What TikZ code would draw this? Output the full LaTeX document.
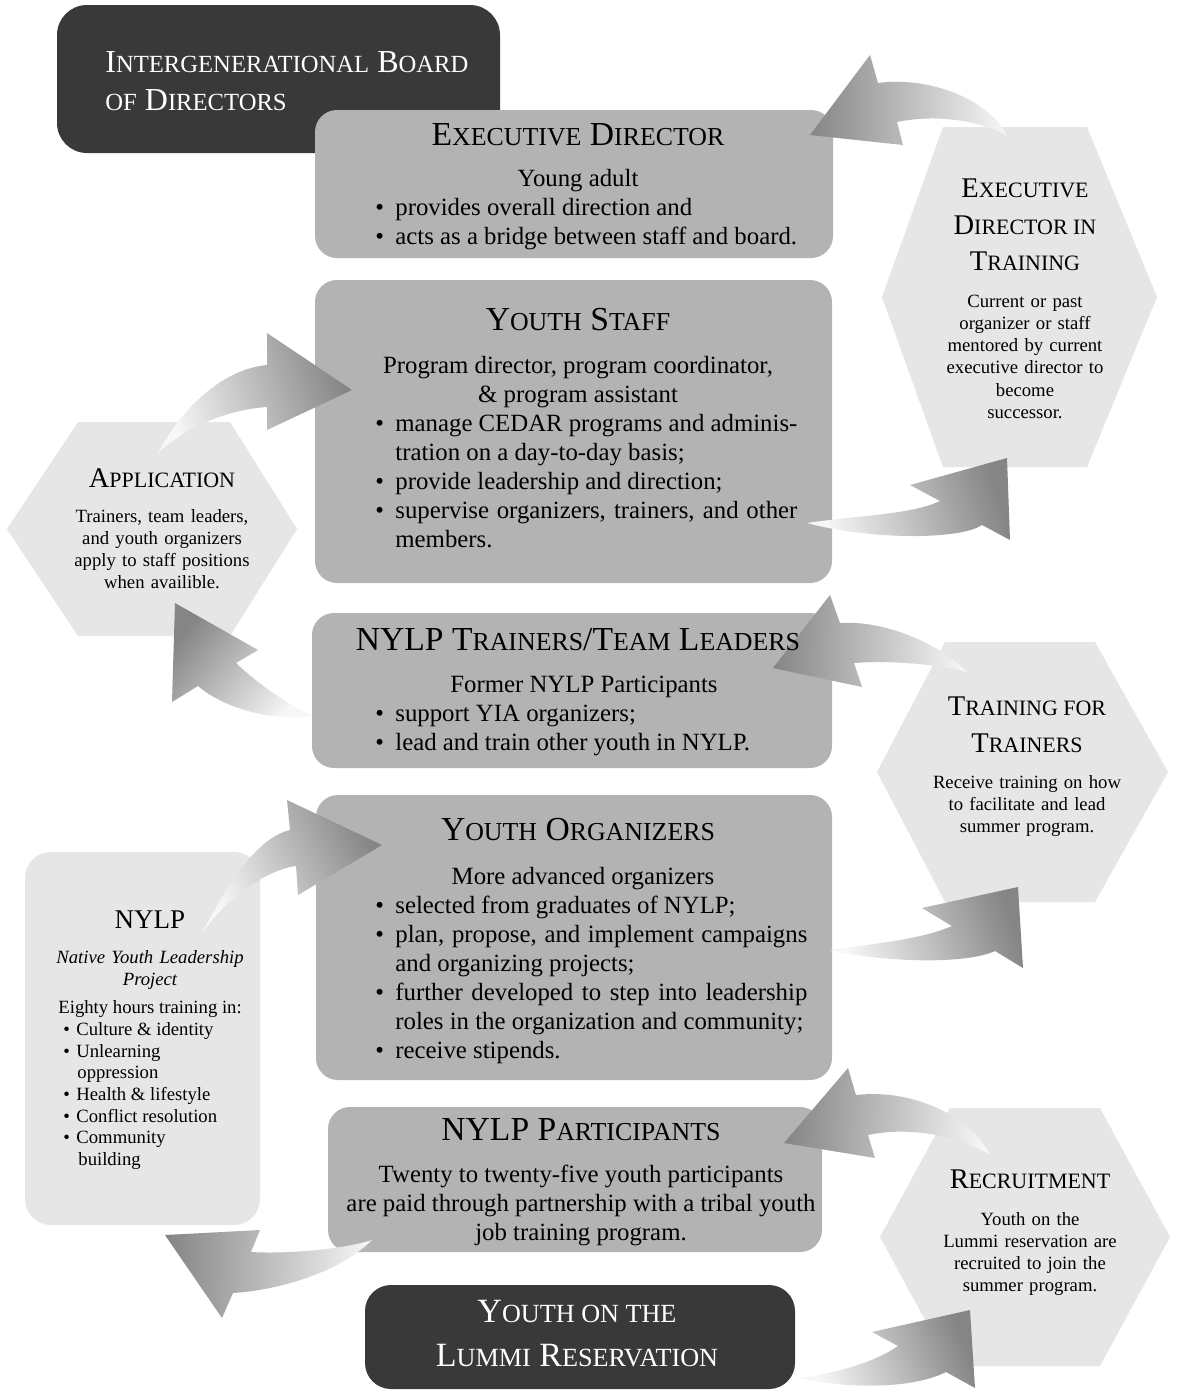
\documentclass[tikz,border=0pt]{standalone}
\usepackage{graphicx}
\usepackage{fontspec}
\setmainfont{Liberation Serif}
\definecolor{cdark}{HTML}{393939}
\definecolor{cmid}{HTML}{B3B3B3}
\definecolor{clight}{HTML}{E6E6E6}
\definecolor{carrd}{HTML}{858585}
\definecolor{carrl}{HTML}{F7F7F7}
\newcommand\smc[1]{\scalebox{0.77}{#1}}
\newcommand\bl{\makebox[10pt][l]{\textbullet}}
\newcommand\sbl{\makebox[6.5pt][l]{\textbullet}}
\newcommand\jl[2]{\makebox[#1][s]{#2}}
\begin{document}
\begin{tikzpicture}[x=0.5pt,y=-0.5pt,
  box/.style={inner sep=0pt, outer sep=0pt, draw=none},
  darkbox/.style={box, fill=cdark, rounded corners=14pt},
  graybox/.style={box, fill=cmid, rounded corners=11pt},
  lightbox/.style={box, fill=clight, rounded corners=13pt},
  hexa/.style={fill=clight, draw=none},
  arr/.style={top color=carrd, bottom color=carrl, draw=none},
  ttl/.style={anchor=base, inner sep=0pt, font=\fontsize{16.8}{20}\selectfont},
  wttl/.style={anchor=base, inner sep=0pt, text=white, font=\fontsize{17}{20}\selectfont},
  bodyc/.style={anchor=base, inner sep=0pt, font=\fontsize{12.4}{14.5}\selectfont},
  bodyl/.style={bodyc, anchor=base west},
  httl/.style={anchor=base, inner sep=0pt, font=\fontsize{14.25}{18.25}\selectfont},
  hbody/.style={anchor=base, inner sep=0pt, text width=110pt, align=center, font=\fontsize{9.35}{11.15}\selectfont},
  sbody/.style={anchor=base west, inner sep=0pt, font=\fontsize{9.35}{11.15}\selectfont},
]
\useasboundingbox (0,0) rectangle (1178,1393);
\fill[white] (0,0) rectangle (1178,1393);

% ---------- boxes ----------
\node[darkbox, rounded corners=15pt, minimum width=221.5pt, minimum height=74pt] (board) at (278.5,79) {};
\node[graybox, minimum width=259pt, minimum height=74pt] (ed) at (574,184) {};
\node[graybox, minimum width=258.5pt, minimum height=151.5pt] (ys) at (573.5,431.5) {};
\node[graybox, minimum width=260pt, minimum height=77.5pt] (tr) at (572,690.5) {};
\node[graybox, minimum width=258pt, minimum height=142.5pt] (yo) at (574,937.5) {};
\node[graybox, minimum width=247pt, minimum height=72.5pt] (pp) at (575,1179.5) {};
\node[darkbox, rounded corners=13pt, minimum width=215pt, minimum height=52pt] (lm) at (580,1337) {};
\node[lightbox, minimum width=117.5pt, minimum height=186.5pt] (ny) at (142.5,1038.5) {};

% ---------- hexagons ----------
\path[hexa] (943,127) -- (1087,127) -- (1157,297) -- (1087,467) -- (943,467) -- (882,297) -- cycle;
\path[hexa] (78,422) -- (230,422) -- (297,529) -- (230,636) -- (78,636) -- (7,529) -- cycle;
\path[hexa] (945,642) -- (1095,642) -- (1168,772) -- (1095,902) -- (945,902) -- (877,772) -- cycle;
\path[hexa] (950,1108) -- (1100,1108) -- (1170,1237) -- (1100,1366) -- (950,1366) -- (880,1237) -- cycle;

% ---------- arrows ----------
% ED in training -> Executive Director
\path[arr, shading angle=90] (1007,136) .. controls (990,100) and (930,76) .. (878,83) -- (870,55) -- (810,135) -- (903,145) -- (897,122) .. controls (935,114) and (980,120) .. (1007,136) -- cycle;
% Youth Staff -> ED in training
\path[arr, shading angle=-72] (807,523) .. controls (860,515) and (910,515) .. (940,501) -- (910,485) -- (1007,458) -- (1010,540) -- (982,525) .. controls (960,540) and (870,540) .. (807,523) -- cycle;
% Application -> Youth Staff
\path[arr, shading angle=-72] (158,453) .. controls (175,420) and (215,370) .. (267,365) -- (267,333) -- (352,390) -- (267,430) -- (267,407) .. controls (225,410) and (185,428) .. (158,453) -- cycle;
% Trainers -> Application
\path[arr, shading angle=51] (313,716) .. controls (290,706) and (258,684) .. (236,663) -- (258,650) -- (175,603) -- (172,702) -- (198,686) .. controls (220,705) and (265,722) .. (313,716) -- cycle;
% Training for trainers -> Trainers
\path[arr, shading angle=89] (967,672) .. controls (945,648) and (890,620) .. (840,623) -- (830,595) -- (773,668) -- (862,687) -- (854,663) .. controls (895,660) and (940,665) .. (967,672) -- cycle;
% Youth Organizers -> Training for trainers
\path[arr, shading angle=-71] (830,950) .. controls (870,944) and (920,940) .. (952,926) -- (922,908) -- (1018,887) -- (1023,968) -- (995,951) .. controls (965,965) and (880,962) .. (830,950) -- cycle;
% Recruitment -> NYLP Participants
\path[arr, shading angle=87] (990,1155) .. controls (975,1122) and (920,1088) .. (856,1095) -- (848,1068) -- (784,1143) -- (875,1158) -- (868,1135) .. controls (910,1126) and (960,1136) .. (990,1155) -- cycle;
% Lummi -> Recruitment
\path[arr, shading angle=-68] (800,1378) .. controls (840,1372) and (875,1362) .. (898,1346) -- (872,1332) -- (970,1310) -- (975,1388) -- (946,1372) .. controls (915,1388) and (850,1390) .. (800,1378) -- cycle;
% NYLP Participants -> NYLP
\path[arr, shading angle=89] (372,1240) .. controls (340,1250) and (285,1254) .. (251,1252) -- (260,1230) -- (165,1235) -- (222,1318) -- (233,1293) .. controls (280,1290) and (340,1272) .. (372,1240) -- cycle;
% NYLP -> Youth Organizers
\path[arr, shading angle=-64] (202,933) .. controls (225,890) and (255,838) .. (290,830) -- (287,800) -- (382,845) -- (298,895) -- (296,866) .. controls (265,870) and (225,900) .. (202,933) -- cycle;

% ---------- texts ----------
\node[wttl, anchor=base west, font=\fontsize{16}{20}\selectfont] (boardT1) at (105,72) {I\smc{NTERGENERATIONAL} B\smc{OARD}};
\node[wttl, anchor=base west, font=\fontsize{16}{20}\selectfont] (boardT2) at (105,110) {\smc{OF} D\smc{IRECTORS}};

\node[ttl] (edT) at (578,145) {E\smc{XECUTIVE} D\smc{IRECTOR}};
\node[bodyc] (edB1) at (578,186) {Young adult};
\node[bodyl] (edB2) at (375,215) {\bl provides overall direction and};
\node[bodyl] (edB3) at (375,244) {\bl acts as a bridge between staff and board.};

\node[ttl] (ysT) at (578,330) {Y\smc{OUTH} S\smc{TAFF}};
\node[bodyc] (ysB1) at (578,373) {Program director, program coordinator,};
\node[bodyc] (ysB2) at (578,402) {\& program assistant};
\node[bodyl] (ysB3) at (375,431) {\bl\jl{201pt}{manage CEDAR programs and adminis-}};
\node[bodyl] (ysB4) at (395,460) {tration on a day-to-day basis;};
\node[bodyl] (ysB5) at (375,489) {\bl provide leadership and direction;};
\node[bodyl] (ysB6) at (375,518) {\bl\jl{201pt}{supervise organizers, trainers, and other}};
\node[bodyl] (ysB7) at (395,547) {members.};

\node[ttl] (trT) at (578,650) {NYLP T\smc{RAINERS}/T\smc{EAM} L\smc{EADERS}};
\node[bodyc] (trB1) at (584,692) {Former NYLP Participants};
\node[bodyl] (trB2) at (375,721) {\bl support YIA organizers;};
\node[bodyl] (trB3) at (375,750) {\bl lead and train other youth in NYLP.};

\node[ttl] (yoT) at (578,840) {Y\smc{OUTH} O\smc{RGANIZERS}};
\node[bodyc] (yoB1) at (583,884) {More advanced organizers};
\node[bodyl] (yoB2) at (375,913) {\bl selected from graduates of NYLP;};
\node[bodyl] (yoB3) at (375,942) {\bl\jl{206pt}{plan, propose, and implement campaigns}};
\node[bodyl] (yoB4) at (395,971) {and organizing projects;};
\node[bodyl] (yoB5) at (375,1000) {\bl\jl{206pt}{further developed to step into leadership}};
\node[bodyl] (yoB6) at (395,1029) {roles in the organization and community;};
\node[bodyl] (yoB7) at (375,1058) {\bl receive stipends.};

\node[ttl] (ppT) at (581,1140) {NYLP P\smc{ARTICIPANTS}};
\node[bodyc] (ppB1) at (581,1182) {Twenty to twenty-five youth participants};
\node[bodyc] (ppB2) at (581,1211) {are paid through partnership with a tribal youth};
\node[bodyc] (ppB3) at (581,1240) {job training program.};

\node[wttl] (lmT1) at (577,1322) {Y\smc{OUTH ON THE}};
\node[wttl] (lmT2) at (577,1366) {L\smc{UMMI} R\smc{ESERVATION}};

% hexagon texts
\node[httl] (edtT1) at (1025,197) {E\smc{XECUTIVE}};
\node[httl] (edtT2) at (1025,234) {D\smc{IRECTOR IN}};
\node[httl] (edtT3) at (1025,270) {T\smc{RAINING}};
\node[hbody] (edtB) at (1025,307) {Current or past\\organizer or staff\\mentored by current\\executive director to\\become\\successor.};

\node[httl] (appT) at (162,487) {A\smc{PPLICATION}};
\node[hbody] (appB) at (162,522) {Trainers, team leaders,\\and youth organizers\\apply to staff positions\\when availible.};

\node[httl] (tftT1) at (1027,715) {T\smc{RAINING FOR}};
\node[httl] (tftT2) at (1027,752) {T\smc{RAINERS}};
\node[hbody] (tftB) at (1027,788) {Receive training on how\\to facilitate and lead\\summer program.};

\node[httl] (recT) at (1030,1188) {R\smc{ECRUITMENT}};
\node[hbody] (recB) at (1030,1225) {Youth on the\\Lummi reservation are\\recruited to join the\\summer program.};

% NYLP box texts
\node[httl, font=\fontsize{13.5}{16}\selectfont] (nyT) at (150,928) {NYLP};
\node[hbody] (nyS) at (150,963) {\itshape Native Youth Leadership\\Project};
\node[sbody] (nyB0) at (58,1013) {Eighty hours training in:};
\node[sbody] (nyB1) at (63,1035) {\sbl Culture \& identity};
\node[sbody] (nyB2) at (63,1057) {\sbl Unlearning};
\node[sbody] (nyB3) at (77,1078) {oppression};
\node[sbody] (nyB4) at (63,1100) {\sbl Health \& lifestyle};
\node[sbody] (nyB5) at (63,1122) {\sbl Conflict resolution};
\node[sbody] (nyB6) at (63,1143) {\sbl Community};
\node[sbody] (nyB7) at (78,1165) {building};
\end{tikzpicture}
\end{document}
